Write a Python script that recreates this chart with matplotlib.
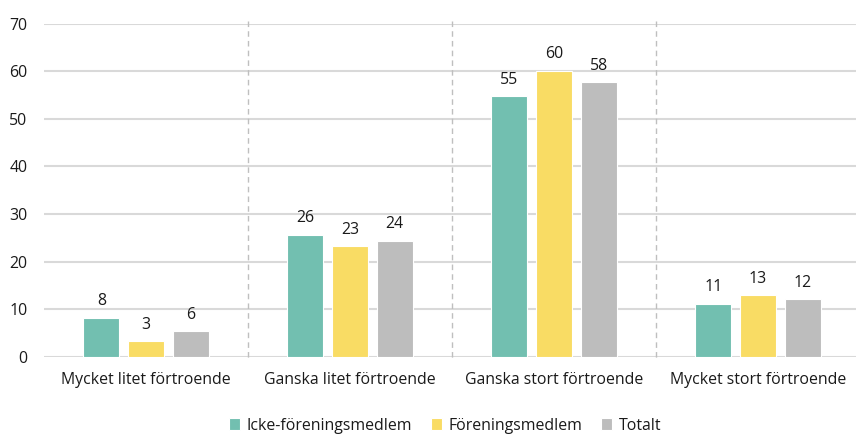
import numpy as np
import matplotlib
matplotlib.use("Agg")
import matplotlib.pyplot as plt

plt.rcParams['font.family'] = ['Open Sans', 'DejaVu Sans']

categories = ["Mycket litet förtroende", "Ganska litet förtroende",
              "Ganska stort förtroende", "Mycket stort förtroende"]
series_names = ["Icke-föreningsmedlem", "Föreningsmedlem", "Totalt"]
icke = [8.3, 25.7, 54.8, 11.2]
medlem = [3.4, 23.3, 60.1, 13.0]
totalt = [5.5, 24.4, 57.7, 12.2]
yticks = [0, 10, 20, 30, 40, 50, 60, 70]

colors = ["#72bfb0", "#f9dc64", "#bdbdbd"]
text_col = "#1a1a1a"
fs = 11.4

fig = plt.figure(figsize=(8.56, 4.36), dpi=100)
ax = fig.add_axes([0.0514, 0.181, 0.9533, 0.765])

x = np.arange(len(categories))
width = 0.175
step = 0.219
for i, (vals, name, c) in enumerate(zip([icke, medlem, totalt], series_names, colors)):
    pos = x + (i - 1) * step
    bars = ax.bar(pos, vals, width, color=c, edgecolor="white", linewidth=0.8,
                  label=name, zorder=3)
    for b, v in zip(bars, vals):
        ax.annotate(f"{v:.0f}", (b.get_x() + b.get_width() / 2, v),
                    xytext=(0, 6), textcoords="offset points",
                    ha="center", va="bottom", fontsize=fs, color=text_col)

# streckade avdelare mellan kategorierna
for s in [0.5, 1.5, 2.5]:
    ax.plot([s, s], [70.6, -0.7], color="#bfbfbf", linestyle=(0, (4, 3)),
            linewidth=1, zorder=1, clip_on=False)

ax.set_xlim(-0.5, 3.5)
ax.set_ylim(0, 70)
ax.set_yticks(yticks)
ax.set_xticks(x)
ax.set_xticklabels(categories)
ax.grid(axis="y", color="#d9d9d9", linewidth=1.5, zorder=0)
ax.set_axisbelow(True)
for sp in ax.spines.values():
    sp.set_visible(False)
ax.tick_params(axis="both", length=0, labelsize=fs, colors=text_col)
ax.tick_params(axis="y", pad=12)
ax.tick_params(axis="x", pad=11)

fig.legend(loc="center", bbox_to_anchor=(0.52, 0.024), ncol=3, frameon=False,
           fontsize=fs, handlelength=0.7, handleheight=0.7, handletextpad=0.4,
           columnspacing=1.2, labelcolor=text_col)

fig.savefig("out.png", dpi=100)
